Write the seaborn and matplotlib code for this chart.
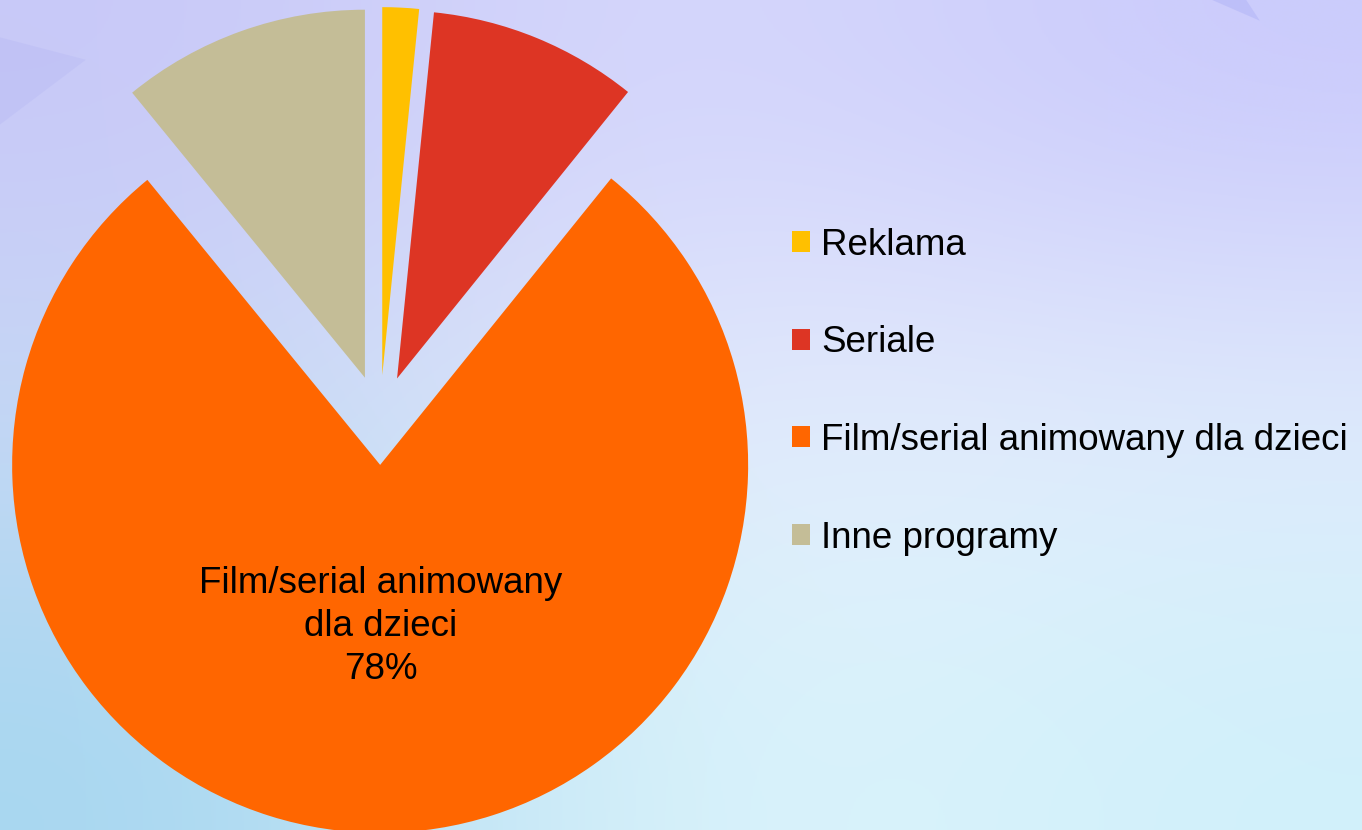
import numpy as np
import matplotlib
matplotlib.use("Agg")
import matplotlib.pyplot as plt
from matplotlib.colors import to_rgb
from matplotlib.patches import Patch
import seaborn as sns

# =============================================
# Data
categories = ["Reklama", "Seriale", "Film/serial animowany dla dzieci", "Inne programy"]
shares = [1.6, 9.2, 78.3, 10.9]
inside_label = "Film/serial animowany\ndla dzieci"
labelled_slice = 2

# =============================================
# Style
sns.set_theme(style="white")
plt.rcParams['font.family'] = ['Liberation Sans', 'DejaVu Sans']
slice_colors = sns.color_palette(["#FFC000", "#DD3524", "#FF6600", "#C4BD97"])
fontSize = 26.5

# background gradient colours (top, middle, bottom rows)
bg_grid = [["#C8C8F8", "#D8DAFC", "#CACAFC"],
           ["#C6D8F4", "#E8EEFC", "#E2ECFC"],
           ["#A6D6F0", "#E0F6FC", "#D0F0FA"]]

f = plt.figure(figsize=(13.62, 8.30), dpi=100)

# background
bg = f.add_axes([0, 0, 1, 1], zorder=-1)
img = np.array([[to_rgb(c) for c in row] for row in bg_grid])
bg.imshow(img, extent=[0, 1, 0, 1], aspect='auto', interpolation='bicubic', origin='upper')
bg.fill([0, 0.063, 0], [0.955, 0.928, 0.85], color="#B4B6F4", alpha=0.35, lw=0)
bg.fill([0.89, 0.925, 0.915], [1, 0.975, 1], color="#B8BAF8", alpha=0.7, lw=0)
bg.set_xlim(0, 1)
bg.set_ylim(0, 1)
bg.axis('off')

# pie axes: 1 data unit = 368 px, centre at (380, 410) px from bottom-left
ax = f.add_axes([-80 / 1362, -50 / 830, 920 / 1362, 920 / 830])
ax.set_facecolor('none')

counter = iter(range(len(shares)))


def pct_text(pct):
    i = next(counter)
    return f"{inside_label}\n{pct:.0f}%" if i == labelled_slice else ""


wedges, texts, autotexts = ax.pie(shares, colors=slice_colors, startangle=90, counterclock=False,
                                  explode=[0.122] * len(shares), radius=1.0,
                                  autopct=pct_text, pctdistance=0.44,
                                  wedgeprops=dict(linewidth=0),
                                  textprops=dict(fontsize=fontSize, color='black'))
for t in autotexts:
    t.set_horizontalalignment('center')
    t.set_multialignment('center')
    t.set_linespacing(1.3)

ax.set_xlim(-1.25, 1.25)
ax.set_ylim(-1.25, 1.25)
ax.set_aspect('equal')
ax.axis('off')

handles = [Patch(facecolor=c, edgecolor='none') for c in slice_colors]
f.legend(handles, categories, loc='center left', bbox_to_anchor=(792 / 1362, 0.528),
         frameon=False, fontsize=fontSize, labelcolor='black', handlelength=0.5, handleheight=0.5,
         handletextpad=0.3, labelspacing=1.7, borderpad=0, borderaxespad=0)

plt.savefig('out.png', dpi=100)
plt.close()
